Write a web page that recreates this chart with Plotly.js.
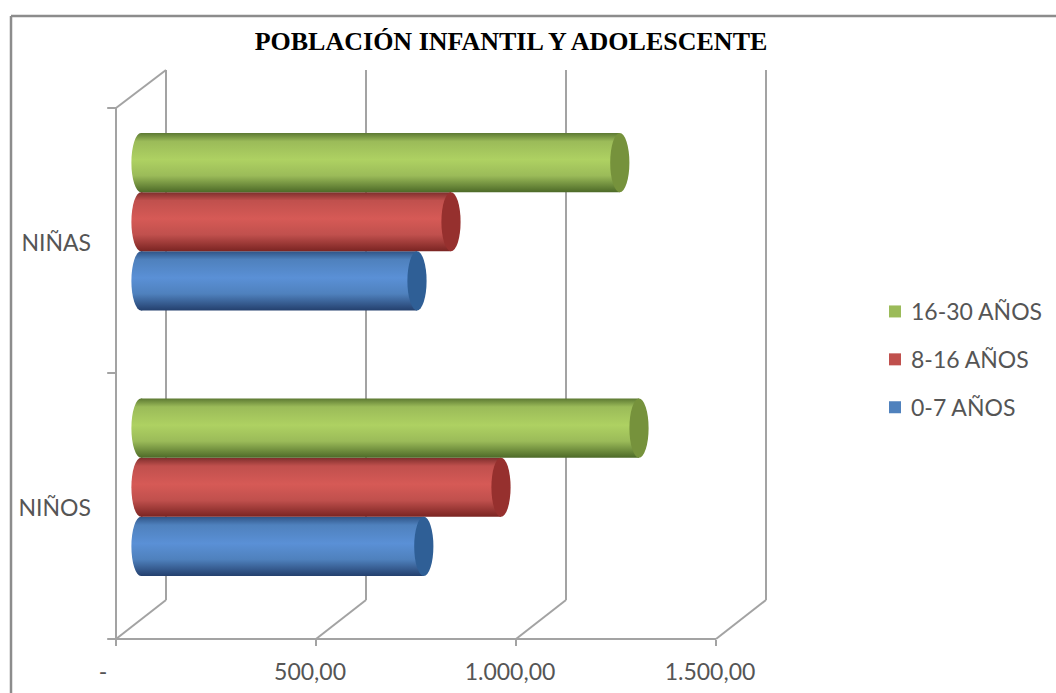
<!DOCTYPE html>
<html><head><meta charset="utf-8">
<script src="https://cdn.plot.ly/plotly-3.0.1.min.js"></script>
<style>html,body{margin:0;padding:0;background:#fff}#c{width:1056px;height:693px}</style>
</head><body><div id="c"></div>
<script>
const categories = ['NIÑOS', 'NIÑAS'];
const seriesNames = ['0-7 AÑOS', '8-16 AÑOS', '16-30 AÑOS'];
const v0_7 = [707, 690];
const v8_16 = [900, 775];
const v16_30 = [1245, 1197];
const tickVals = [0, 500, 1000, 1500];
const tickText = ['-', '500,00', '1.000,00', '1.500,00'];
const colors = ['#4f81bd', '#c0504d', '#9bbb59'];
const capColors = ['#2f5f96', '#96302e', '#76923c'];
const seriesVals = [v0_7, v8_16, v16_30];

const W = 1056, H = 693;
const px = x => x / W, py = y => 1 - y / H;
const UNIT = 0.4;               // px per value unit
const depthX = 50 / UNIT;       // depth of the back wall in value units
const gridColor = '#a3a3a3';
const barW = 0.2226;

const traces = seriesNames.map((n, i) => ({
  type: 'bar', orientation: 'h', name: n, y: categories, x: seriesVals[i],
  xaxis: 'x2', yaxis: 'y2', legendgroup: n, legendrank: 1000 - i,
  marker: {color: colors[i], line: {width: 0}}, hoverinfo: 'x+y'
}));

const shapes = [];
const ln = (xref, x0, y0, x1, y1, w) => shapes.push({type: 'line', xref, yref: 'paper', x0, x1,
  y0: py(y0), y1: py(y1), line: {color: gridColor, width: w || 2}, layer: 'below'});
// frame
shapes.push({type: 'line', xref: 'paper', yref: 'paper', x0: px(11), x1: px(1056), y0: py(16), y1: py(16), line: {color: '#8c8c8c', width: 2.5}, layer: 'below'});
shapes.push({type: 'line', xref: 'paper', yref: 'paper', x0: px(11), x1: px(11), y0: py(16), y1: py(693), line: {color: '#8c8c8c', width: 2.5}, layer: 'below'});
// walls
tickVals.forEach(t => {
  ln('x', t, 639, t + depthX, 600);
  ln('x', t + depthX, 600, t + depthX, 70);
});
ln('x', 0, 639, 1500, 639);
ln('x', 0, 639, 0, 108);
ln('x', 0, 108, depthX, 70);
ln('x', -22, 108, 0, 108);
ln('x', -22, 373, 0, 373);
ln('x', -22, 639, 0, 639);

// cylinder caps
const capR = 24;
const bodyIdx = [], capIdx = [];
seriesNames.forEach((n, i) => {
  categories.forEach((c, j) => {
    const yc = j + (i - 1) * barW;
    bodyIdx.push([shapes.length, i]);
    shapes.push({type: 'circle', xref: 'x2', yref: 'y2', x0: -capR, x1: capR,
      y0: yc - barW / 2, y1: yc + barW / 2, fillcolor: colors[i], line: {width: 0}, layer: 'above'});
    capIdx.push(shapes.length);
    shapes.push({type: 'circle', xref: 'x2', yref: 'y2', x0: seriesVals[i][j] - capR, x1: seriesVals[i][j] + capR,
      y0: yc - barW / 2, y1: yc + barW / 2, fillcolor: capColors[i], line: {width: 0}, layer: 'above'});
  });
});

const rangeX = [-40, 1710];
const layout = {
  width: W, height: H, margin: {l: 0, r: 0, t: 0, b: 0}, paper_bgcolor: '#fff', plot_bgcolor: 'rgba(0,0,0,0)',
  barmode: 'group', bargap: 1 - 3 * barW, bargroupgap: 0, showlegend: true,
  title: {text: '<b>POBLACIÓN INFANTIL Y ADOLESCENTE</b>', x: 511 / W, xanchor: 'center', y: 1 - 41 / H, yanchor: 'middle',
    font: {family: '"Liberation Serif", serif', size: 26, color: '#000'}},
  font: {family: 'Lato, "Open Sans", sans-serif', size: 23, color: '#555'},
  xaxis: {domain: [px(100), px(800)], range: rangeX, tickmode: 'array', tickvals: tickVals, ticktext: tickText,
    showgrid: false, zeroline: false, showline: false, ticks: 'outside', ticklen: 6, tickwidth: 2, tickcolor: gridColor,
    anchor: 'y', tickfont: {size: 23, color: '#555'}, ticklabelstandoff: 6},
  yaxis: {domain: [py(639), py(108)], type: 'category', categoryorder: 'array', categoryarray: categories, range: [-0.5, 1.5],
    showgrid: false, zeroline: false, showline: false, ticks: '', anchor: 'x', tickfont: {size: 23, color: '#555'}, ticklabelstandoff: 8},
  xaxis2: {domain: [px(125), px(825)], range: rangeX, visible: false, anchor: 'y2'},
  yaxis2: {domain: [py(620), py(89)], type: 'category', categoryorder: 'array', categoryarray: categories, range: [-0.5, 1.5],
    visible: false, anchor: 'x2'},
  legend: {x: 875 / W, y: py(290), xanchor: 'left', yanchor: 'top', traceorder: 'grouped', tracegroupgap: 15,
    font: {size: 23, color: '#555'}, bgcolor: 'rgba(0,0,0,0)'},
  shapes
};

Plotly.newPlot('c', traces, layout, {displayModeBar: false, responsive: false}).then(gd => {
  const svg = gd.querySelector('svg.main-svg');
  const NS = 'http://www.w3.org/2000/svg';
  const defs = svg.querySelector('defs');
  // one row per gradient stop, one column per series (blue, red, green)
  const stops = [
    ['#2f5487', '#7d2e2c', '#5d7a33'],
    ['#4f81bd', '#c0504d', '#9bbb59'],
    ['#5a90d6', '#d65a56', '#aed162'],
    ['#4f81bd', '#c0504d', '#9bbb59'],
    ['#24406e', '#7a2422', '#4d6a28']
  ];
  const offs = [0, 0.14, 0.45, 0.72, 1];
  colors.forEach((c, i) => {
    const g = document.createElementNS(NS, 'linearGradient');
    g.setAttribute('id', 'cyl' + i);
    g.setAttribute('x1', '0'); g.setAttribute('y1', '0'); g.setAttribute('x2', '0'); g.setAttribute('y2', '1');
    offs.forEach((o, k) => {
      const s = document.createElementNS(NS, 'stop');
      s.setAttribute('offset', o);
      s.setAttribute('stop-color', stops[k][i]);
      g.appendChild(s);
    });
    defs.appendChild(g);
  });
  gd.querySelectorAll('.barlayer .trace').forEach(t => {
    const i = t.__data__[0].trace.index;
    t.querySelectorAll('path').forEach(p => p.style.fill = 'url(#cyl' + i + ')');
  });
  bodyIdx.forEach(([idx, i]) => {
    const p = gd.querySelector('.shapelayer path[data-index="' + idx + '"]');
    if (p) p.style.fill = 'url(#cyl' + i + ')';
  });
  gd.querySelectorAll('.legend .legendtext').forEach(t => {
    t.setAttribute('x', +t.getAttribute('x') - 4);
  });
  // small nudges of the tick labels
  gd.querySelectorAll('.xtick text').forEach(t => {
    const dx = t.textContent === '-' ? -13 : -6;
    t.setAttribute('x', +t.getAttribute('x') + dx);
  });
  gd.querySelectorAll('.ytick text').forEach(t => {
    t.setAttribute('y', +t.getAttribute('y') + 2);
  });
});
</script></body></html>
